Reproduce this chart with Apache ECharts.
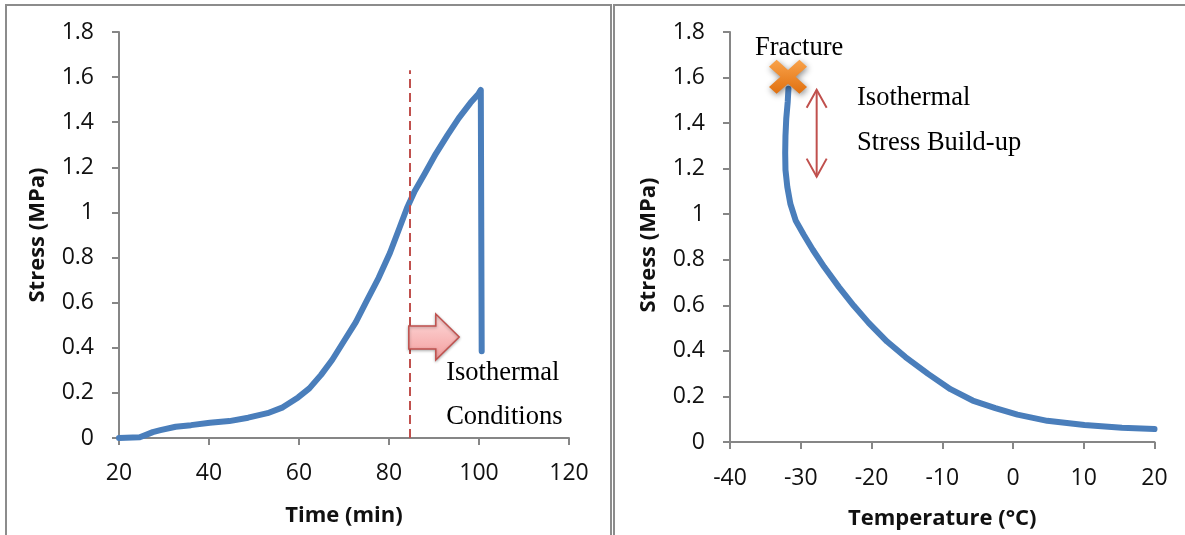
<!DOCTYPE html>
<html><head><meta charset="utf-8">
<script src="https://cdn.jsdelivr.net/npm/echarts@6/dist/echarts.min.js"></script>
<style>html,body{margin:0;padding:0;background:#fff}#c{width:1185px;height:535px}</style>
</head><body><div id="c"></div>
<script>
// ---- Left panel: Stress (MPa) vs Time (min)
const timeMin    = [20, 24.6, 26, 27.5, 29.2, 32.6, 36, 40.2, 44.5, 48.7, 53, 56.4, 59.8, 62.3, 64.9, 67.4, 70, 72.6, 75.1, 77.7, 80.2, 82.3, 84, 85.7, 87.9, 90.4, 93, 95.5, 98.1, 99.8, 100.4, 100.6, 100.6];
const stressTime = [0, 0.003, 0.014, 0.026, 0.035, 0.05, 0.057, 0.068, 0.075, 0.09, 0.11, 0.136, 0.18, 0.22, 0.28, 0.347, 0.43, 0.513, 0.61, 0.71, 0.82, 0.93, 1.02, 1.094, 1.17, 1.26, 1.343, 1.418, 1.486, 1.524, 1.543, 1.54, 0.385];
// ---- Right panel: Stress (MPa) vs Temperature (°C)
const tempC      = [-31.74, -31.84, -32.05, -32.16, -32.2, -32.16, -31.9, -31.47, -30.7, -29.6, -28.3, -26.7, -24.6, -22.5, -20.4, -17.8, -15.2, -12.0, -8.84, -5.7, -2.5, 0.63, 4.84, 10.1, 15.4, 20];
const stressTemp = [1.551, 1.494, 1.419, 1.344, 1.27, 1.195, 1.12, 1.046, 0.971, 0.911, 0.844, 0.769, 0.68, 0.598, 0.523, 0.441, 0.373, 0.299, 0.232, 0.182, 0.149, 0.12, 0.093, 0.075, 0.063, 0.057];
const fracturePoint = [[-31.8, 1.603]];

// axis ranges / ticks
const timeAxis = {min: 20, max: 120, interval: 20};
const tempAxis = {min: -40, max: 20, interval: 10};
const stressAxis = {min: 0, max: 1.8, interval: 0.2};

// annotation anchors (data units)
const isothermalStartTime = 84.5, dashTop = 1.63;
const pinkArrow = [[84.4, 0.496], [90.4, 0.496], [90.4, 0.55], [95.6, 0.448], [90.4, 0.346], [90.4, 0.395], [84.4, 0.395]];
const leftTexts = [{t: 'Isothermal', at: [92.7, 0.288]}, {t: 'Conditions', at: [92.7, 0.095]}];
const buildUpArrow = [[-27.75, 1.546], [-27.75, 1.165]];
const rightTexts = [{t: 'Fracture', at: [-36.47, 1.73]}, {t: 'Isothermal', at: [-22.05, 1.511]}, {t: 'Stress Build-up', at: [-22.05, 1.314]}];

const GRAY = '#868686', BLUE = '#4a7ebb', RED = '#c0504d';
const SERIF = '26.5px "Liberation Serif"';
const labelStyle = {fontFamily: 'Open Sans', fontSize: 23, color: '#111'};
const nameStyle = {fontFamily: 'Open Sans', fontSize: 22, fontWeight: 'bold', color: '#111'};
function axisBase(extra) {
  return Object.assign({
    type: 'value',
    axisLine: {show: true, onZero: false, lineStyle: {color: GRAY, width: 2}},
    axisTick: {show: true, inside: false, length: 7, lineStyle: {color: GRAY, width: 2}},
    splitLine: {show: false},
    nameLocation: 'middle',
    nameTextStyle: nameStyle
  }, extra);
}

const chart = echarts.init(document.getElementById('c'), null, {renderer: 'canvas'});
chart.setOption({
  animation: false,
  backgroundColor: '#fff',
  grid: [
    {left: 119, top: 32, width: 450, height: 406},
    {left: 730, top: 32, width: 424.5, height: 411}
  ],
  xAxis: [
    axisBase(Object.assign({gridIndex: 0, name: 'Time (min)', nameGap: 67, axisLabel: Object.assign({margin: 24}, labelStyle)}, timeAxis)),
    axisBase(Object.assign({gridIndex: 1, name: 'Temperature (°C)', nameGap: 66, axisLabel: Object.assign({margin: 25}, labelStyle)}, tempAxis))
  ],
  yAxis: [
    axisBase(Object.assign({gridIndex: 0, name: 'Stress (MPa)', nameGap: 70, axisLabel: Object.assign({margin: 25}, labelStyle)}, stressAxis)),
    axisBase(Object.assign({gridIndex: 1, name: 'Stress (MPa)', nameGap: 70, axisLabel: Object.assign({margin: 25}, labelStyle),
      nameTextStyle: Object.assign({padding: [0, 16, 0, 0]}, nameStyle)}, stressAxis))
  ],
  graphic: [
    {type: 'rect', shape: {x: 6, y: 5, width: 605, height: 600}, style: {fill: 'none', stroke: '#8c8c8c', lineWidth: 2}, z: 0},
    {type: 'rect', shape: {x: 614, y: 5, width: 600, height: 600}, style: {fill: 'none', stroke: '#8c8c8c', lineWidth: 2}, z: 0}
  ],
  series: [
    {
      type: 'line', xAxisIndex: 0, yAxisIndex: 0, showSymbol: false, z: 3,
      data: timeMin.map((t, i) => [t, stressTime[i]]),
      lineStyle: {color: BLUE, width: 6, cap: 'round', join: 'round'},
      markLine: {
        silent: true, symbol: 'none', label: {show: false},
        lineStyle: {color: RED, width: 2, type: [9, 5]},
        data: [[{coord: [isothermalStartTime, 0]}, {coord: [isothermalStartTime, dashTop]}]]
      }
    },
    {
      type: 'custom', xAxisIndex: 0, yAxisIndex: 0, data: [[0, 0]], silent: true, z: 5, clip: false,
      renderItem: function (p, api) {
        const pts = pinkArrow.map(d => api.coord(d));
        const kids = [{
          type: 'polygon', shape: {points: pts},
          style: {
            fill: {type: 'linear', x: 0, y: 0, x2: 0, y2: 1, colorStops: [{offset: 0, color: '#fddcdc'}, {offset: 1, color: '#f49d9d'}]},
            stroke: RED, lineWidth: 1.5, shadowBlur: 3, shadowColor: 'rgba(0,0,0,0.3)', shadowOffsetY: 1
          }
        }];
        leftTexts.forEach(o => {
          const c = api.coord(o.at);
          kids.push({type: 'text', x: c[0], y: c[1], style: {text: o.t, font: SERIF, fill: '#000', align: 'left', verticalAlign: 'middle'}});
        });
        return {type: 'group', children: kids};
      }
    },
    {
      type: 'line', xAxisIndex: 1, yAxisIndex: 1, showSymbol: false, z: 3,
      data: tempC.map((t, i) => [t, stressTemp[i]]),
      lineStyle: {color: BLUE, width: 6, cap: 'round', join: 'round'}
    },
    {
      type: 'scatter', xAxisIndex: 1, yAxisIndex: 1, z: 6, silent: true,
      data: fracturePoint,
      symbol: 'path://M4,0 L10,6 L16,0 L20,4 L14,10 L20,16 L16,20 L10,14 L4,20 L0,16 L6,10 L0,4 Z',
      symbolSize: [38, 34],
      itemStyle: {
        color: {type: 'linear', x: 0, y: 0, x2: 0, y2: 1, colorStops: [{offset: 0, color: '#f9a24a'}, {offset: 1, color: '#e0700f'}]},
        shadowBlur: 6, shadowColor: 'rgba(0,0,0,0.45)', shadowOffsetX: 1, shadowOffsetY: 2, opacity: 1
      }
    },
    {
      type: 'custom', xAxisIndex: 1, yAxisIndex: 1, data: [[0, 0]], silent: true, z: 5, clip: false,
      renderItem: function (p, api) {
        const a = api.coord(buildUpArrow[0]), b = api.coord(buildUpArrow[1]);
        const st = {stroke: RED, lineWidth: 2, fill: 'none'};
        const kids = [
          {type: 'line', shape: {x1: a[0], y1: a[1], x2: b[0], y2: b[1]}, style: st},
          {type: 'polyline', shape: {points: [[a[0] - 10, a[1] + 18], a, [a[0] + 10, a[1] + 18]]}, style: st},
          {type: 'polyline', shape: {points: [[b[0] - 10, b[1] - 18], b, [b[0] + 10, b[1] - 18]]}, style: st}
        ];
        rightTexts.forEach(o => {
          const c = api.coord(o.at);
          kids.push({type: 'text', x: c[0], y: c[1], style: {text: o.t, font: SERIF, fill: '#000', align: 'left', verticalAlign: 'middle'}});
        });
        return {type: 'group', children: kids};
      }
    }
  ]
});
</script>
</body></html>
